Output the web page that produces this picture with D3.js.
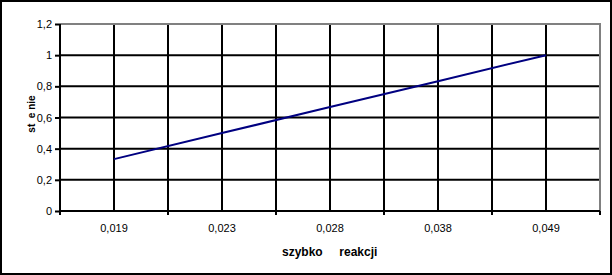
<!DOCTYPE html>
<head>
  <script src="https://d3js.org/d3.v7.min.js"></script>
  <style>
    body {
      margin: 0;
      overflow: hidden;
      background: #fff;
    }
    text {
      font-family: "Liberation Sans", Arial, sans-serif;
    }
  </style>
</head>
<body>
  <svg width="612" height="275"></svg>
  <script>
    // data
    const categories = ['0,019', '0,023', '0,028', '0,038', '0,049'];
    const values = [0.333, 0.5, 0.667, 0.833, 1.0];
    const yTicks = [0, 0.2, 0.4, 0.6, 0.8, 1, 1.2];
    const xTitle = 'szybko     reakcji';
    const yTitle = 'st  e nie';

    const svg = d3.select('svg');
    const width = +svg.attr('width');
    const height = +svg.attr('height');

    const margin = { top: 24, right: 12, bottom: 64, left: 60 };
    const innerWidth = width - margin.left - margin.right;
    const innerHeight = height - margin.top - margin.bottom;

    const fmt = d => d3.format('.1~f')(d).replace('.', ',');

    // outer frame
    svg.append('rect')
      .attr('x', 1).attr('y', 1)
      .attr('width', width - 2).attr('height', height - 2)
      .attr('fill', 'none')
      .attr('stroke', '#000')
      .attr('stroke-width', 2);

    const g = svg.append('g')
      .attr('transform', `translate(${margin.left},${margin.top})`);

    const xScale = d3.scaleBand()
      .domain(categories)
      .range([0, innerWidth]);

    const yScale = d3.scaleLinear()
      .domain([0, 1.2])
      .range([innerHeight, 0]);

    // horizontal grid
    g.selectAll('.hgrid').data(yTicks.filter(d => d > 0 && d < 1.2))
      .enter().append('line')
        .attr('x1', 0).attr('x2', innerWidth)
        .attr('y1', d => yScale(d)).attr('y2', d => yScale(d))
        .attr('stroke', '#000')
        .attr('stroke-width', 2);

    // vertical grid: category centres and boundaries
    const vLines = [];
    categories.forEach((c, i) => {
      vLines.push(xScale(c) + xScale.bandwidth() / 2);
      if (i > 0) vLines.push(xScale(c));
    });
    g.selectAll('.vgrid').data(vLines)
      .enter().append('line')
        .attr('x1', d => d).attr('x2', d => d)
        .attr('y1', 0).attr('y2', innerHeight)
        .attr('stroke', '#000')
        .attr('stroke-width', 2);

    // plot border (top / right in gray)
    g.append('path')
      .attr('d', `M0,0H${innerWidth}V${innerHeight}`)
      .attr('fill', 'none')
      .attr('stroke', '#808080')
      .attr('stroke-width', 2);

    // y axis
    const yAxisG = g.append('g')
      .call(d3.axisLeft(yScale).tickValues(yTicks).tickFormat(fmt).tickSize(5).tickPadding(3));
    yAxisG.select('.domain').attr('stroke-width', 2).attr('d', `M0,0V${innerHeight}`);
    yAxisG.selectAll('.tick line').attr('stroke-width', 2);
    yAxisG.selectAll('.tick text')
      .attr('font-size', 11)
      .attr('font-family', '"Liberation Sans", Arial, sans-serif')
      .attr('fill', '#000');

    // x axis: ticks at category boundaries
    const xAxisG = g.append('g')
      .attr('transform', `translate(0,${innerHeight})`);
    xAxisG.append('line')
      .attr('x1', 0).attr('x2', innerWidth)
      .attr('stroke', '#000').attr('stroke-width', 2);
    const bounds = categories.map(c => xScale(c)).concat([innerWidth]);
    xAxisG.selectAll('.xtick').data(bounds)
      .enter().append('line')
        .attr('x1', d => d).attr('x2', d => d)
        .attr('y1', 0).attr('y2', 4)
        .attr('stroke', '#000').attr('stroke-width', 2);
    xAxisG.selectAll('.xlabel').data(categories)
      .enter().append('text')
        .attr('x', d => xScale(d) + xScale.bandwidth() / 2)
        .attr('y', 21)
        .attr('text-anchor', 'middle')
        .attr('font-size', 11)
        .attr('fill', '#000')
        .text(d => d);

    // series line
    const line = d3.line()
      .x((d, i) => xScale(categories[i]) + xScale.bandwidth() / 2)
      .y(d => yScale(d));
    g.append('path')
      .datum(values)
      .attr('d', line)
      .attr('fill', 'none')
      .attr('stroke', '#000080')
      .attr('stroke-width', 2);

    // axis titles
    svg.append('text')
      .attr('x', 282)
      .attr('y', 256)
      .attr('font-size', 12)
      .attr('font-weight', 'bold')
      .style('white-space', 'pre')
      .text(xTitle);

    svg.append('text')
      .attr('transform', 'translate(35,114) rotate(-90)')
      .attr('text-anchor', 'middle')
      .attr('font-size', 10)
      .attr('font-weight', 'bold')
      .style('white-space', 'pre')
      .text(yTitle);
  </script>
</body>
